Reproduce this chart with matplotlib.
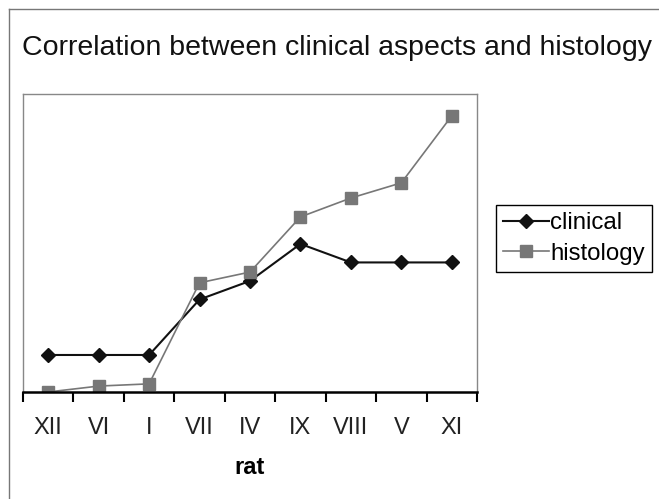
import matplotlib.pyplot as plt
from matplotlib.lines import Line2D

rats = ["XII", "VI", "I", "VII", "IV", "IX", "VIII", "V", "XI"]
clinical = [1, 1, 1, 2.5, 3, 4, 3.5, 3.5, 3.5]
histology = [0, 0.16, 0.22, 2.95, 3.24, 4.73, 5.24, 5.65, 7.46]

plt.rcParams['font.family'] = ['Liberation Sans', 'DejaVu Sans']

fig = plt.figure(figsize=(6.59, 4.99), dpi=100)
ax = fig.add_axes([23 / 659, 107 / 499, 454 / 659, 298 / 499])

X = list(range(len(rats)))
ax.plot(X, clinical, color="#111111", marker="D", markersize=7, lw=1.5, label="clinical")
ax.plot(X, histology, color="#777777", marker="s", markersize=8, lw=1.2, label="histology")

ax.set_xlim(-0.5, len(rats) - 0.5)
ax.set_ylim(0, 8.05)
ax.set_yticks([])
ax.set_xticks(X)
ax.set_xticklabels(rats, fontsize=17, color="#222222")
ax.set_xticks([i - 0.5 for i in range(len(rats) + 1)], minor=True)
ax.tick_params(axis="x", which="major", length=0, pad=18)
ax.tick_params(axis="x", which="minor", length=7, width=1.5, color="black", direction="out")
for s in ["top", "right", "left"]:
    ax.spines[s].set_color("#888888")
    ax.spines[s].set_linewidth(1)
ax.spines["bottom"].set_color("black")
ax.spines["bottom"].set_linewidth(1.8)
ax.set_xlabel("rat", fontsize=17, fontweight="bold", labelpad=12)

fig.text(22 / 659, 1 - 48 / 499, "Correlation between clinical aspects and histology",
         fontsize=20.5, va="center", ha="left", color="#111111")

fig.legend(loc="upper left", bbox_to_anchor=(496 / 659, 1 - 205 / 499), fontsize=17.3,
           frameon=True, fancybox=False, edgecolor="black", framealpha=1,
           handlelength=1.9, handletextpad=0.05, borderpad=0.3, labelspacing=0.35,
           borderaxespad=0)

# outer chart frame
fig.add_artist(Line2D([9 / 659, 9 / 659], [0, 1 - 9 / 499], color="#777777", lw=1))
fig.add_artist(Line2D([9 / 659, 1], [1 - 9 / 499, 1 - 9 / 499], color="#777777", lw=1))

plt.savefig("out.png")
